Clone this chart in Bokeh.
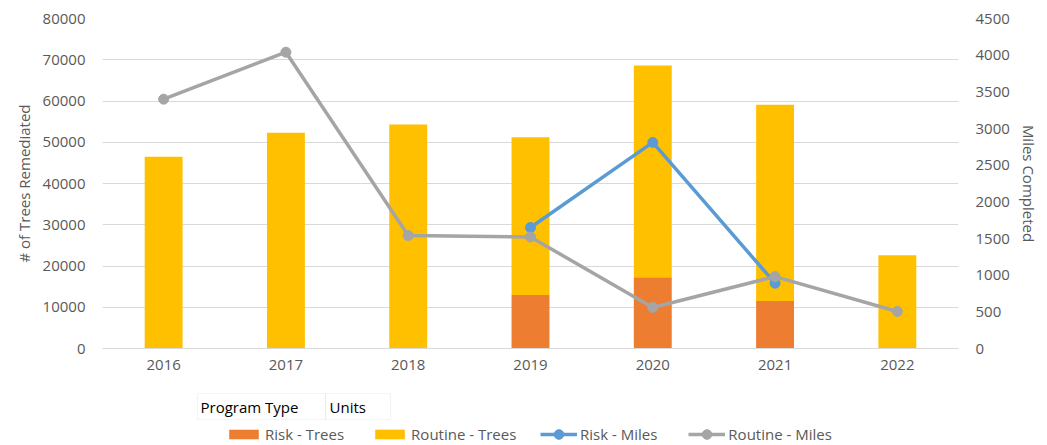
from bokeh.plotting import figure
from bokeh.models import (ColumnDataSource, FactorRange, Range1d, LinearAxis, FixedTicker,
                          Legend, LegendItem, Label, BoxAnnotation, NumeralTickFormatter)
from bokeh.layouts import column
from bokeh.embed import file_html
from bokeh.resources import INLINE

years = ["2016", "2017", "2018", "2019", "2020", "2021", "2022"]
risk_trees = [0, 0, 0, 13000, 17300, 11500, 0]
routine_trees = [46500, 52300, 54300, 38200, 51300, 47600, 22600]
routine_miles = [3400, 4040, 1540, 1520, 560, 980, 505]
risk_years = ["2019", "2020", "2021"]
risk_miles = [1650, 2810, 890]
left_ticks = [0, 10000, 20000, 30000, 40000, 50000, 60000, 70000, 80000]
right_ticks = [0, 500, 1000, 1500, 2000, 2500, 3000, 3500, 4000, 4500]
series_names = ["Risk - Trees", "Routine - Trees", "Risk - Miles", "Routine - Miles"]
field_buttons = ["Program Type", "Units"]

FONT = "Open Sans"
TXT = "#595959"
GRID = "#D9D9D9"
C_RISK_T, C_ROUT_T, C_RISK_M, C_ROUT_M = "#ED7D31", "#FFC000", "#5B9BD5", "#A5A5A5"

W = 1047
H1 = 382
H2 = 63
BL, BR = 102, 89

p = figure(width=W, height=H1, x_range=FactorRange(*years, range_padding=0),
           y_range=Range1d(0, 80000), output_backend="svg", toolbar_location=None,
           min_border_left=BL, min_border_right=BR, min_border_top=18, min_border_bottom=34)
p.extra_y_ranges = {"miles": Range1d(0, 4500)}
p.outline_line_color = None

src = ColumnDataSource(dict(years=years, risk=risk_trees, routine=routine_trees))
bars = p.vbar_stack(["risk", "routine"], x="years", width=0.31, source=src,
                    color=[C_RISK_T, C_ROUT_T], line_color=None)

risk_src = ColumnDataSource(dict(x=risk_years, y=risk_miles))
rout_src = ColumnDataSource(dict(x=years, y=routine_miles))
p.line("x", "y", source=risk_src, y_range_name="miles", line_color=C_RISK_M, line_width=3.5)
p.scatter("x", "y", source=risk_src, y_range_name="miles", size=10,
          fill_color=C_RISK_M, line_color=C_RISK_M)
p.line("x", "y", source=rout_src, y_range_name="miles", line_color=C_ROUT_M, line_width=3.5)
p.scatter("x", "y", source=rout_src, y_range_name="miles", size=10,
          fill_color=C_ROUT_M, line_color=C_ROUT_M)

ya = p.yaxis[0]
ya.ticker = FixedTicker(ticks=left_ticks)
ya.formatter = NumeralTickFormatter(format="0")
ya.axis_label = "# of Trees Remediated"
ra = LinearAxis(y_range_name="miles", ticker=FixedTicker(ticks=right_ticks),
                formatter=NumeralTickFormatter(format="0"), axis_label="Miles Completed")
p.add_layout(ra, "right")

for ax in [ya, ra]:
    ax.axis_line_color = None
    ax.major_tick_line_color = None
    ax.minor_tick_line_color = None
    ax.major_tick_out = 0
    ax.major_tick_in = 0
    ax.minor_tick_out = 0
    ax.major_label_standoff = 17
ya.axis_label_standoff = 6
ra.axis_label_standoff = 6
xa = p.xaxis[0]
for ax in [ya, ra, xa]:
    ax.major_label_text_font = FONT
    ax.major_label_text_font_size = "15px"
    ax.major_label_text_color = TXT
    ax.axis_label_text_font = FONT
    ax.axis_label_text_font_size = "15px"
    ax.axis_label_text_color = TXT
    ax.axis_label_text_font_style = "normal"
xa.axis_line_color = GRID
xa.major_tick_line_color = None
xa.minor_tick_line_color = None
xa.major_tick_out = 0
xa.major_label_standoff = 11

p.xgrid.grid_line_color = None
p.ygrid.grid_line_color = GRID

# ---- lower strip: pivot field buttons + legend (frame aligned with main plot) ----
p2 = figure(width=W, height=H2, x_range=Range1d(0, 100), y_range=Range1d(0, 100),
            output_backend="svg", toolbar_location=None,
            x_axis_location=None, y_axis_location=None,
            min_border_left=BL, min_border_right=BR, min_border_top=0, min_border_bottom=0)
p2.outline_line_color = None
p2.grid.grid_line_color = None

def sy(page_y):
    return H1 + H2 - page_y

box_top, box_bot = sy(393), sy(419)
for (l, r) in [(197 - BL, 325 - BL), (325 - BL, 390 - BL)]:
    p2.add_layout(BoxAnnotation(left=l, right=r, top=box_top, bottom=box_bot,
                                left_units="screen", right_units="screen",
                                top_units="screen", bottom_units="screen",
                                fill_alpha=0, line_color=GRID, line_width=1.2))
for txt, xx in zip(field_buttons, [200 - BL, 329 - BL]):
    p2.add_layout(Label(x=xx, y=(box_top + box_bot) / 2, x_units="screen", y_units="screen",
                        text=txt, text_font=FONT, text_font_size="15px", text_color="#000000",
                        text_baseline="middle", text_align="left"))

# legend proxies (single points far outside the visible strip)
lb1 = p2.vbar(x=[-1000], top=[-1000], width=1, color=C_RISK_T, line_color=None)
lb2 = p2.vbar(x=[-1000], top=[-1000], width=1, color=C_ROUT_T, line_color=None)
ll1 = p2.line(x=[-1000, -999], y=[-1000, -1000], line_color=C_RISK_M, line_width=3.5)
ls1 = p2.scatter(x=[-1000], y=[-1000], size=10, fill_color=C_RISK_M, line_color=C_RISK_M)
ll2 = p2.line(x=[-1000, -999], y=[-1000, -1000], line_color=C_ROUT_M, line_width=3.5)
ls2 = p2.scatter(x=[-1000], y=[-1000], size=10, fill_color=C_ROUT_M, line_color=C_ROUT_M)

def make_legend(items, x, gh, spacing):
    lg = Legend(items=items, orientation="horizontal")
    lg.padding = 0
    lg.margin = 0
    lg.spacing = spacing
    lg.label_standoff = 3
    lg.glyph_width = 37
    lg.glyph_height = gh
    lg.label_height = 24
    lg.border_line_color = None
    lg.background_fill_alpha = 0
    lg.label_text_font = FONT
    lg.label_text_font_size = "15px"
    lg.label_text_color = TXT
    lg.location = (x, sy(434) - 12)
    return lg

leg_bars = make_legend([LegendItem(label=series_names[0], renderers=[lb1]),
                        LegendItem(label=series_names[1], renderers=[lb2])], 225 - BL, 12, 27)
leg_lines = make_legend([LegendItem(label=series_names[2], renderers=[ll1, ls1]),
                         LegendItem(label=series_names[3], renderers=[ll2, ls2])], 540 - BL, 24, 31)
p2.add_layout(leg_bars)
p2.add_layout(leg_lines)

layout = column(p, p2, spacing=0)
open("out.html", "w").write(file_html(layout, INLINE))
